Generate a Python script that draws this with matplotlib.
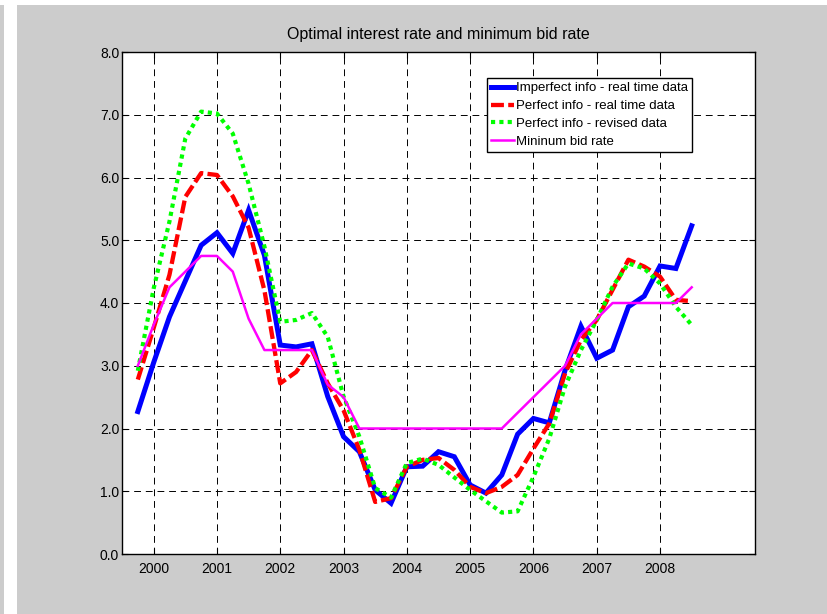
import numpy as np
import matplotlib
matplotlib.use("Agg")
import matplotlib.pyplot as plt
from matplotlib.patches import Rectangle

plt.rcParams['font.family'] = ['Liberation Sans', 'DejaVu Sans']

# quarterly observations, 1999Q4 .. 2008Q3
quarters = np.arange(1999.75, 2008.51, 0.25)

imperfect_rt = [2.27, 3.05, 3.78, 4.35, 4.92, 5.12, 4.79, 5.48, 4.76, 3.33, 3.30, 3.35,
                2.51, 1.87, 1.63, 1.02, 0.81, 1.39, 1.40, 1.63, 1.55, 1.10, 0.97, 1.26,
                1.91, 2.16, 2.09, 2.93, 3.63, 3.12, 3.25, 3.94, 4.11, 4.59, 4.55, 5.23]
perfect_rt = [2.78, 3.60, 4.45, 5.69, 6.07, 6.04, 5.70, 5.20, 4.20, 2.72, 2.90, 3.25,
              2.72, 2.29, 1.66, 0.83, 0.89, 1.39, 1.50, 1.53, 1.34, 1.07, 0.97, 1.07,
              1.26, 1.68, 2.08, 2.88, 3.41, 3.73, 4.21, 4.69, 4.58, 4.42, 4.05, 4.03]
perfect_rev = [2.92, 4.23, 5.30, 6.62, 7.05, 7.02, 6.70, 5.90, 4.90, 3.70, 3.73, 3.84,
               3.46, 2.51, 1.87, 1.05, 0.90, 1.45, 1.52, 1.42, 1.22, 1.02, 0.84, 0.66,
               0.68, 1.23, 1.84, 2.67, 3.25, 3.73, 4.26, 4.63, 4.55, 4.31, 3.94, 3.65]
min_bid = [3.00, 3.65, 4.25, 4.50, 4.75, 4.75, 4.50, 3.75, 3.25, 3.25, 3.25, 3.25,
           2.70, 2.50, 2.00, 2.00, 2.00, 2.00, 2.00, 2.00, 2.00, 2.00, 2.00, 2.00,
           2.25, 2.50, 2.75, 3.00, 3.50, 3.75, 4.00, 4.00, 4.00, 4.00, 4.00, 4.25]

years = list(range(2000, 2009))
yticks = np.arange(0, 8.1, 1.0)

fig = plt.figure(figsize=(8.28, 6.14), dpi=100, facecolor='#cccccc')
# white strips along the left and top edge of the screenshot
fig.patches.append(Rectangle((4 / 828, 0), 13 / 828, 1, transform=fig.transFigure,
                             facecolor='white', edgecolor='none', zorder=-1))
fig.patches.append(Rectangle((0, 1 - 5 / 614), 1, 5 / 614, transform=fig.transFigure,
                             facecolor='white', edgecolor='none', zorder=-1))

ax = fig.add_axes([122 / 828, 60 / 614, 633 / 828, 502 / 614])
ax.set_facecolor('white')

ax.plot(quarters, imperfect_rt, color='#0000ff', lw=3.6, solid_joinstyle='miter',
        label='Imperfect info - real time data')
ax.plot(quarters, perfect_rt, color='#ff0000', lw=3.1, linestyle=(0, (3.0, 1.0)),
        dash_capstyle='butt', label='Perfect info - real time data')
ax.plot(quarters, perfect_rev, color='#00ff00', lw=3.0, linestyle=(0, (1.0, 1.0)),
        dash_capstyle='butt', label='Perfect info - revised data')
ax.plot(quarters, min_bid, color='#ff00ff', lw=1.8, label='Mininum bid rate')

ax.set_xlim(1999.5, 2009.5)
ax.set_ylim(0, 8)
ax.set_xticks(years)
ax.set_xticklabels([str(y) for y in years])
ax.set_yticks(yticks)
ax.set_yticklabels([f"{v:.1f}" for v in yticks])
ax.tick_params(direction='in', length=4, width=0.8, labelsize=10, top=True, right=True,
               colors='black')
ax.tick_params(axis='x', pad=6)
ax.tick_params(axis='y', pad=2)
ax.grid(True, color='black', linestyle=(0, (7, 5)), lw=0.7)
for s in ax.spines.values():
    s.set_linewidth(1.0)
    s.set_color('black')

ax.set_title('Optimal interest rate and minimum bid rate', fontsize=11.5, pad=9)

leg = ax.legend(loc='upper left', bbox_to_anchor=((486.7 - 122) / 633, (554 - 78.3) / 502),
                borderaxespad=0, fancybox=False, shadow=False, framealpha=1,
                edgecolor='black', fontsize=9.5, handlelength=1.75, handletextpad=0.2,
                labelspacing=0.42, borderpad=0.3)
leg.get_frame().set_linewidth(1.0)

fig.savefig('out.png', dpi=100, facecolor=fig.get_facecolor())
